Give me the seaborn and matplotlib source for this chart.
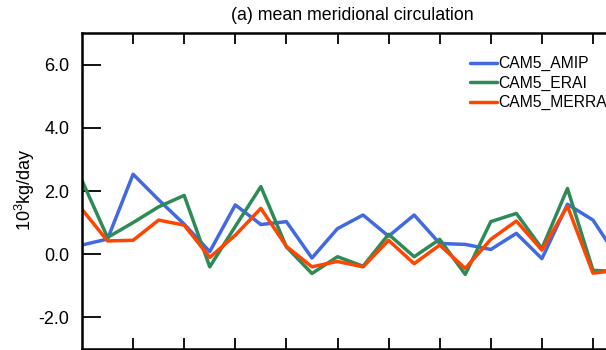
import numpy as np
import pandas as pd
import matplotlib
matplotlib.use("Agg")
import matplotlib.pyplot as plt
import seaborn as sns

# Mean meridional circulation term for each experiment (10^3 kg/day)
steps = list(range(22))
cam5_amip = [0.29, 0.48, 2.53, 1.72, 0.95, 0.08, 1.56, 0.94, 1.03, -0.12, 0.81,
             1.24, 0.57, 1.24, 0.34, 0.31, 0.15, 0.66, -0.14, 1.58, 1.08, -0.15]
cam5_erai = [2.33, 0.53, 1.00, 1.50, 1.86, -0.40, 0.88, 2.14, 0.23, -0.61, -0.08,
             -0.38, 0.63, -0.08, 0.47, -0.64, 1.03, 1.29, 0.18, 2.08, -0.51, -0.55]
cam5_merra = [1.42, 0.42, 0.44, 1.08, 0.92, -0.10, 0.60, 1.45, 0.25, -0.40, -0.23,
              -0.40, 0.44, -0.30, 0.29, -0.45, 0.47, 1.05, 0.13, 1.52, -0.60, -0.50]
series_names = ["CAM5_AMIP", "CAM5_ERAI", "CAM5_MERRA"]
y_ticks = [-2.0, 0.0, 2.0, 4.0, 6.0]

df = pd.DataFrame({
    "step": steps * 3,
    "value": cam5_amip + cam5_erai + cam5_merra,
    "run": [series_names[0]] * 22 + [series_names[1]] * 22 + [series_names[2]] * 22,
})

sns.set_style("ticks")
plt.rcParams["font.family"] = ["Liberation Sans", "DejaVu Sans"]
plt.rcParams["mathtext.fontset"] = "custom"
plt.rcParams["mathtext.rm"] = "Liberation Sans"
for key in ["text.color", "axes.labelcolor", "xtick.color", "ytick.color",
            "axes.edgecolor"]:
    plt.rcParams[key] = "black"

fig = plt.figure(figsize=(6.06, 3.5), dpi=100)
W, H = 606, 350
x0, ytop, ybot = 82, 33, 349
step_px = 25.55
x_max = 23
ax = fig.add_axes([x0 / W, (H - ybot) / H, x_max * step_px / W, (ybot - ytop) / H])

palette = {"CAM5_AMIP": "#4169E1", "CAM5_ERAI": "#2E8B57", "CAM5_MERRA": "#FF4500"}
sns.lineplot(data=df, x="step", y="value", hue="run", palette=palette,
             linewidth=2.5, ax=ax, legend=True)

ax.set_xlim(0, x_max)
ax.set_ylim(-3, 7)
ax.set_yticks(y_ticks)
ax.set_yticklabels([f"{v:.1f}" for v in y_ticks], fontsize=13, color="black")
ax.set_xticks(list(range(2, x_max + 1, 2)))
ax.tick_params(axis="x", which="both", top=True, bottom=True, labelbottom=False,
               direction="in", length=7.7, width=1.3, color="black")
ax.tick_params(axis="y", direction="in", length=14, width=1.3, pad=9,
               color="black", labelcolor="black")
for s in ax.spines.values():
    s.set_linewidth(1.8)
    s.set_color("black")
ax.set_xlabel("")
ax.set_ylabel("")

fig.text(25 / W, 1 - 190 / H, "10$^3$kg/day", rotation=90, ha="center", va="center",
         fontsize=13, color="black")
fig.text(352 / W, 1 - 15 / H, "(a) mean meridional circulation", ha="center",
         va="center", fontsize=12.8, color="black")

leg = ax.legend(loc="upper left", bbox_to_anchor=(470 / W, 1 - 56 / H),
                bbox_transform=fig.transFigure, frameon=False, fontsize=11.3,
                handlelength=1.75, handletextpad=0.08, labelspacing=0.28,
                borderaxespad=0, borderpad=0)
for text in leg.get_texts():
    text.set_color("black")
for line in leg.get_lines():
    line.set_linewidth(2.5)

fig.savefig("out.png", dpi=100)
